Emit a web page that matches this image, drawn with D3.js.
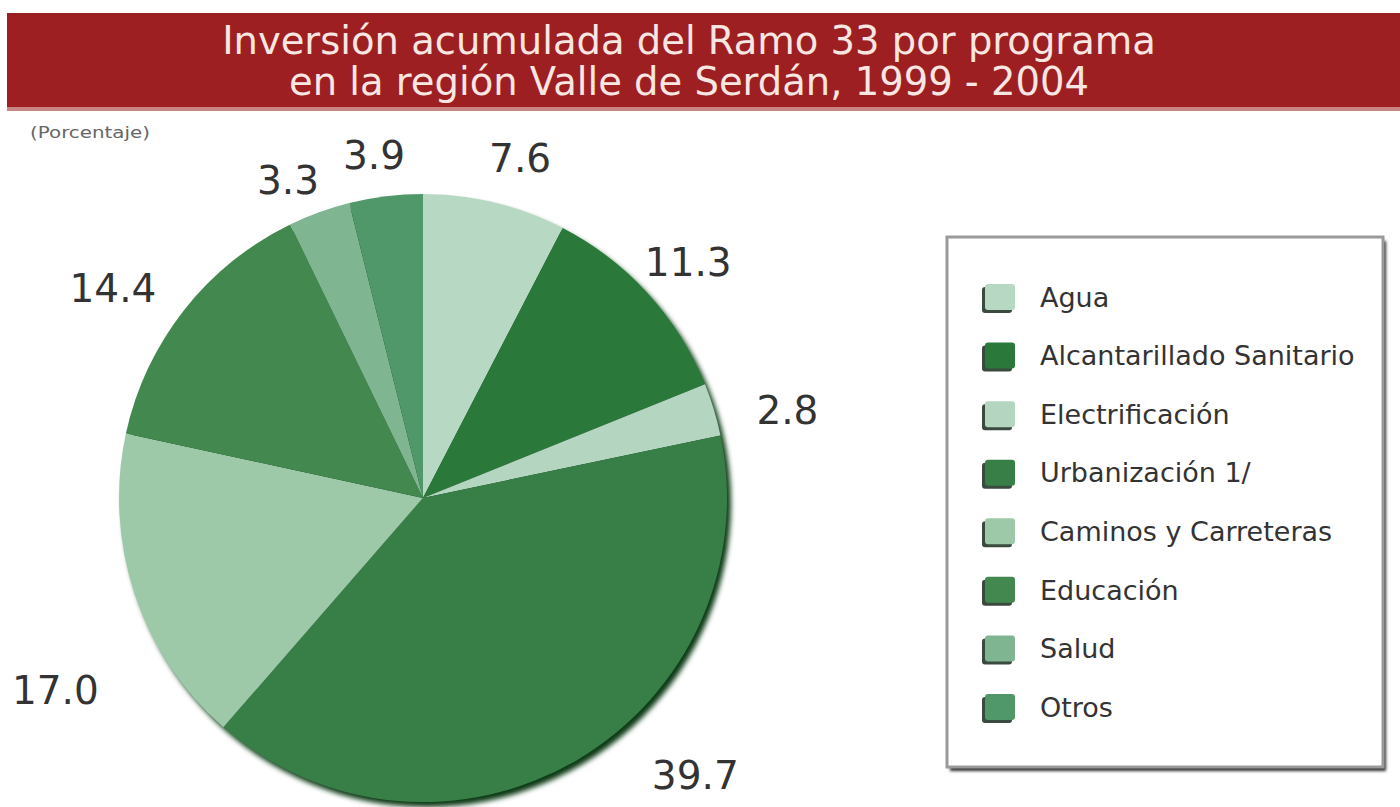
<!DOCTYPE html>
<html>
<head>
<meta charset="utf-8">
<script src="https://cdn.jsdelivr.net/npm/d3@7.9.0/dist/d3.min.js"></script>
<style>
  body { margin: 0; background: #fff; }
  svg { display: block; font-family: "DejaVu Sans", Verdana, sans-serif; }
</style>
</head>
<body>
<svg id="chart" width="1400" height="807"></svg>
<script>
// data
const programas = ['Agua', 'Alcantarillado Sanitario', 'Electrificación', 'Urbanización 1/',
  'Caminos y Carreteras', 'Educación', 'Salud', 'Otros'];
const porcentajes = [7.6, 11.3, 2.8, 39.7, 17.0, 14.4, 3.3, 3.9];
const sliceColors = ['#b7d8c2', '#2b783b', '#b4d6c0', '#377f46', '#9ec9a9', '#43894f', '#80b592', '#50976a'];
const titleLines = ['Inversión acumulada del Ramo 33 por programa', 'en la región Valle de Serdán, 1999 - 2004'];

// label nudges (px) so the numbers sit where the original put them
const labelNudge = [[12, 10], [-1, 6], [20, 17], [90, -33], [-26, 79], [-27, 12], [-12, 20], [-5, 14]];

const svg = d3.select('#chart');
const cx = 423, cy = 498, r = 304;

const defs = svg.append('defs');
defs.append('filter').attr('id', 'blur').append('feGaussianBlur').attr('stdDeviation', 2.5);
defs.append('filter').attr('id', 'soft').append('feGaussianBlur').attr('stdDeviation', 1.5);

// title bar
svg.append('rect').attr('x', 7).attr('y', 13).attr('width', 1393).attr('height', 96).attr('fill', '#9d1f21');
svg.append('rect').attr('x', 7).attr('y', 107).attr('width', 1393).attr('height', 4).attr('fill', '#c98583');
svg.selectAll('text.title')
  .data(titleLines)
  .join('text')
  .attr('class', 'title')
  .attr('x', 689)
  .attr('y', (d, i) => 54 + i * 41)
  .attr('text-anchor', 'middle')
  .attr('fill', '#f7e6e2')
  .attr('font-size', 38.5)
  .text(d => d);

svg.append('text')
  .attr('x', 30).attr('y', 138)
  .attr('font-size', 15)
  .attr('textLength', 120)
  .attr('lengthAdjust', 'spacingAndGlyphs')
  .attr('fill', '#666')
  .text('(Porcentaje)');

// pie
const pie = d3.pie().sort(null).value(d => d);
const arcs = pie(porcentajes);
const arc = d3.arc().innerRadius(0).outerRadius(r);
const labelArc = d3.arc().innerRadius(360).outerRadius(360);

const g = svg.append('g').attr('transform', `translate(${cx},${cy})`);

// dark rim / shadow on lower right
g.append('circle')
  .attr('cx', 4).attr('cy', 5).attr('r', r)
  .attr('fill', '#0b3a16')
  .attr('filter', 'url(#blur)');

g.selectAll('path.slice')
  .data(arcs)
  .join('path')
  .attr('class', 'slice')
  .attr('d', arc)
  .attr('fill', (d, i) => sliceColors[i]);

g.selectAll('text.lbl')
  .data(arcs)
  .join('text')
  .attr('class', 'lbl')
  .attr('transform', (d, i) => {
    const [x, y] = labelArc.centroid(d);
    return `translate(${x + labelNudge[i][0]},${y + labelNudge[i][1]})`;
  })
  .attr('text-anchor', 'middle')
  .attr('dy', '0.36em')
  .attr('font-size', 39)
  .attr('fill', '#333')
  .text(d => d3.format('.1f')(d.data));

// legend
const lx = 947, ly = 237, lw = 436, lh = 530;
svg.append('rect')
  .attr('x', lx + 3).attr('y', ly + 4).attr('width', lw).attr('height', lh)
  .attr('fill', '#333').attr('filter', 'url(#soft)');
svg.append('rect')
  .attr('x', lx).attr('y', ly).attr('width', lw).attr('height', lh)
  .attr('fill', '#fff').attr('stroke', '#9a9a9a').attr('stroke-width', 3);

const rowY = d3.scalePoint().domain(programas).range([297, 707]);

const items = svg.selectAll('g.item')
  .data(programas)
  .join('g')
  .attr('class', 'item')
  .attr('transform', d => `translate(${lx},${rowY(d)})`);

items.append('rect')
  .attr('x', 35).attr('y', -10).attr('width', 30).attr('height', 26).attr('rx', 3)
  .attr('fill', '#3a4a3e');
items.append('rect')
  .attr('x', 38).attr('y', -13).attr('width', 30).attr('height', 26).attr('rx', 3)
  .attr('fill', (d, i) => sliceColors[i]);
items.append('text')
  .attr('x', 93).attr('y', 0)
  .attr('dy', '0.36em')
  .attr('font-size', 27)
  .attr('fill', '#333')
  .text(d => d);
</script>
</body>
</html>
